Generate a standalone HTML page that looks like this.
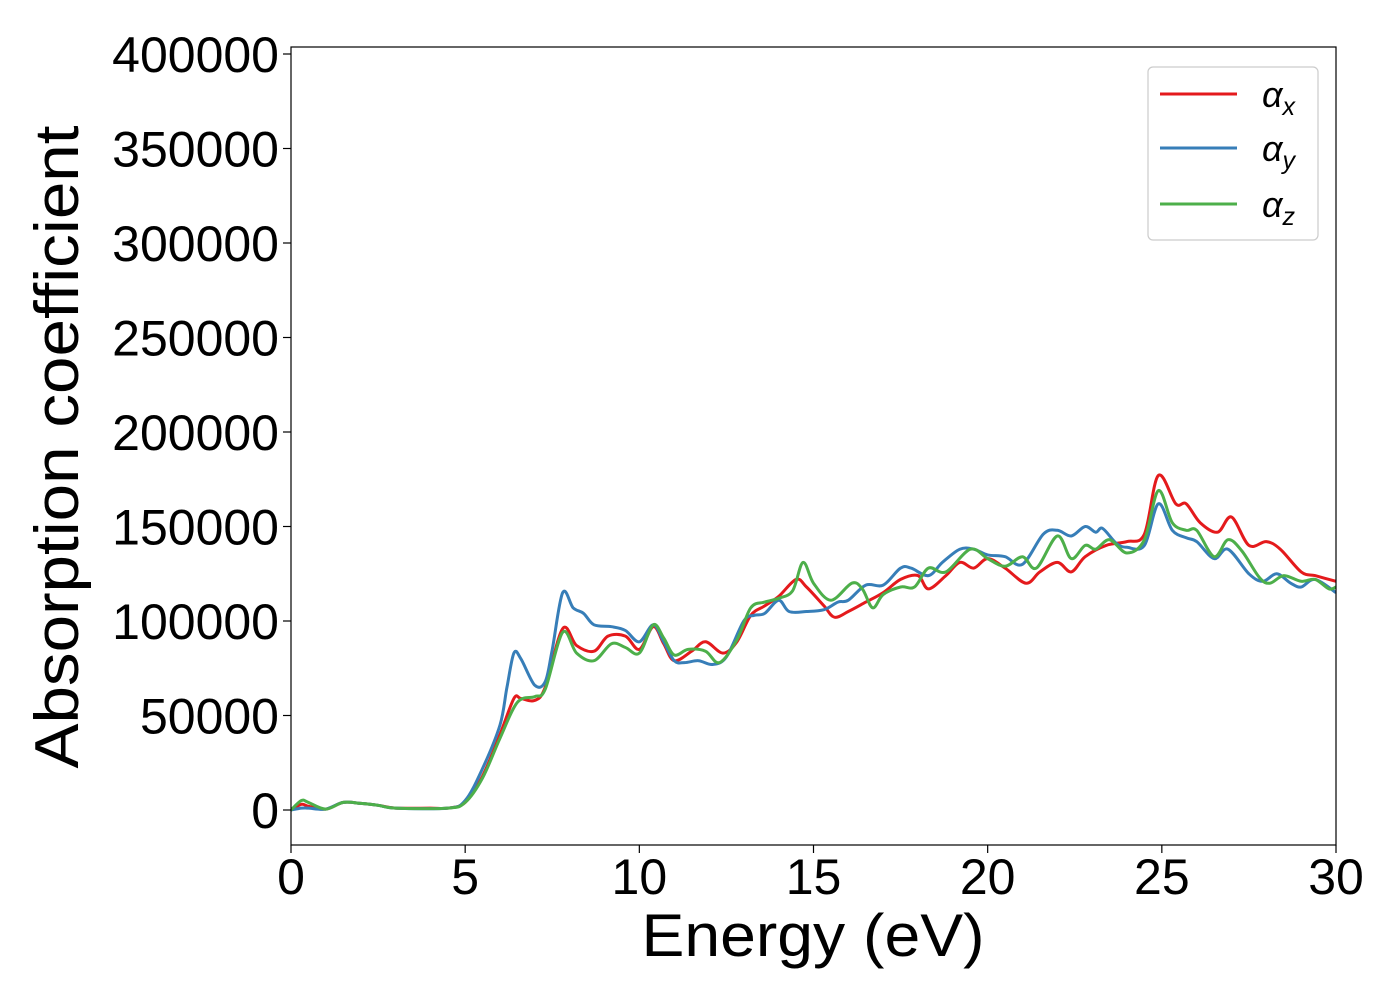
<!DOCTYPE html>
<html><head><meta charset="utf-8"><style>
html,body{margin:0;padding:0;background:#fff;}
svg{display:block;font-family:"Liberation Sans","DejaVu Sans",sans-serif;}
</style></head><body>
<svg id="chart" width="1400" height="1000" viewBox="0 0 1400 1000" xmlns="http://www.w3.org/2000/svg">
<rect x="0" y="0" width="1400" height="1000" fill="#fff"/>
<g id="series"></g>
<rect x="291" y="47" width="1045" height="798" fill="none" stroke="#000" stroke-width="1.2"/>
<g id="xticks"></g>
<g id="yticks"></g>
<text x="813" y="956" font-size="60" text-anchor="middle" textLength="343" lengthAdjust="spacingAndGlyphs">Energy (eV)</text>
<text x="0" y="0" font-size="62" text-anchor="middle" textLength="643" lengthAdjust="spacingAndGlyphs" transform="translate(78,447) rotate(-90)">Absorption coefficient</text>
<g>
<rect x="1148" y="67" width="170" height="173" rx="5" fill="#fff" fill-opacity="0.8" stroke="#ccc" stroke-width="1.2"/>
<line x1="1160" y1="94" x2="1237" y2="94" stroke="#e41a1c" stroke-width="3"/>
<text x="1262" y="107" font-size="36" font-style="italic">α<tspan font-size="25" dy="8">x</tspan></text>
<line x1="1160" y1="148" x2="1237" y2="148" stroke="#377eb8" stroke-width="3"/>
<text x="1262" y="161" font-size="36" font-style="italic">α<tspan font-size="25" dy="8">y</tspan></text>
<line x1="1160" y1="204" x2="1237" y2="204" stroke="#4daf4a" stroke-width="3"/>
<text x="1262" y="217" font-size="36" font-style="italic">α<tspan font-size="25" dy="8">z</tspan></text>
</g>
</svg>
<script>
const xTicks=[0,5,10,15,20,25,30];
const yTicks=[0,50000,100000,150000,200000,250000,300000,350000,400000];
const ex=[0,0.3,0.5,1,1.5,2,2.5,3,4,4.5,5,5.5,6,6.4,6.6,7,7.3,7.8,8.2,8.7,9.1,9.6,10,10.4,10.7,11,11.5,11.9,12.4,12.8,13.2,13.6,14,14.5,14.8,15.3,15.6,16,16.5,17,17.5,18,18.3,18.8,19.2,19.6,20,20.5,21.1,21.5,22,22.4,22.8,23.4,24,24.5,24.9,25.4,25.7,26.1,26.6,27,27.5,28,28.4,29,29.4,30];
const ax=[0,3,2,0.5,4,3.5,2.5,1,1,1,4,18,40,59,59,58,65,96,87,84,92,92,85,97,88,79,84,89,83,89,103,108,113,122,118,108,102,105,110,115,122,124,117,124,131,128,133,128,120,126,131,126,134,140,142,146,177,162,162,152,147,155,140,142,138,126,124,121];
const ey=[0,0.3,0.5,1,1.5,2,2.5,3,4.5,5,5.5,6,6.2,6.4,6.6,7,7.3,7.5,7.8,8.1,8.4,8.7,9.2,9.6,10,10.4,10.7,11,11.3,11.7,12.1,12.5,13,13.3,13.6,14,14.3,14.8,15.3,15.7,16,16.5,17,17.5,17.8,18.3,18.7,19.2,19.6,20,20.5,21,21.6,22,22.4,22.8,23.1,23.3,23.7,24,24.5,24.9,25.3,25.7,26,26.5,26.9,27.5,27.9,28.3,28.7,29,29.4,30];
const ay=[0,1,1,0.5,4,3.5,2.5,1,1,5,22,45,65,83,80,66,68,85,115,107,104,98,97,95,89,98,89,79,78,79,77,81,100,103,104,111,105,105,106,110,111,119,119,128,128,124,131,138,138,135,134,130,146,148,145,150,147,149,141,139,140,162,148,144,142,133,138,125,121,125,120,118,122,115];
const ez=[0,0.3,0.5,1,1.5,2,2.5,3,4.5,5,5.5,6,6.5,7,7.3,7.8,8.2,8.7,9.2,9.6,10,10.4,10.7,11,11.4,11.9,12.3,12.8,13.2,13.6,14,14.4,14.7,15,15.5,16.1,16.4,16.7,17,17.5,17.9,18.3,18.8,19.5,20,20.5,21,21.4,22,22.4,22.8,23.1,23.5,24,24.5,24.9,25.3,25.7,26,26.5,26.9,27.3,27.8,28.1,28.5,29,29.4,29.8,30];
const az=[0,5,4,0.5,4,3.5,2.5,1,1,4,17,38,57,60,64,94,83,79,88,86,83,98,91,82,85,84,78,90,107,110,112,116,131,120,111,120,117,107,114,118,118,128,126,138,133,129,134,128,145,133,140,138,143,136,143,169,152,148,148,134,143,137,123,120,124,121,122,117,118];
const NS="http://www.w3.org/2000/svg";
const X0=291,X1=1336,Y0=810,Y400=54;
function sx(e){return X0+(e-0)/(30-0)*(X1-X0);}
function sy(v){return Y0+(v/400000)*(Y400-Y0);}
function el(t,a,p){const n=document.createElementNS(NS,t);for(const k in a)n.setAttribute(k,a[k]);p.appendChild(n);return n;}
const xg=document.getElementById('xticks'),yg=document.getElementById('yticks');
xTicks.forEach(t=>{
 const l=el('line',{x1:sx(t),x2:sx(t),y1:845,y2:853,stroke:'#000','stroke-width':1.2},xg);
 
 
 const tx=el('text',{x:sx(t),y:894,'font-size':50,'text-anchor':'middle'},xg);
 
 
 tx.textContent=t;
});
yTicks.forEach(t=>{
 const l=el('line',{x1:283,x2:291,y1:sy(t),y2:sy(t),stroke:'#000','stroke-width':1.2},yg);
 
 
 const tx=el('text',{x:279,y:sy(t)+18,'font-size':50,'text-anchor':'end'},yg);
 
 
 tx.textContent=t;
});
function pathFor(E,V){
 const p=E.map((e,i)=>[sx(e),sy(V[i]*1000)]);
 let d='M'+p[0][0].toFixed(1)+','+p[0][1].toFixed(1);
 for(let i=0;i<p.length-1;i++){
  const a=p[i-1]||p[i],b=p[i],c=p[i+1],f=p[i+2]||c;
  const c1=[b[0]+(c[0]-a[0])/6,b[1]+(c[1]-a[1])/6],c2=[c[0]-(f[0]-b[0])/6,c[1]-(f[1]-b[1])/6];
  d+=' C'+c1[0].toFixed(1)+','+c1[1].toFixed(1)+' '+c2[0].toFixed(1)+','+c2[1].toFixed(1)+' '+c[0].toFixed(1)+','+c[1].toFixed(1);
 }
 return d;
}
const sg=document.getElementById('series');
const cp=el('clipPath',{id:'clip'},sg);el('rect',{x:291,y:47,width:1045,height:798},cp);
[[ex,ax,'#e41a1c','series-alpha-x'],[ey,ay,'#377eb8','series-alpha-y'],[ez,az,'#4daf4a','series-alpha-z']].forEach(s=>{
 const p=el('path',{d:pathFor(s[0],s[1]),fill:'none',stroke:s[2],'stroke-width':3,'clip-path':'url(#clip)'},sg);
 
 
});
</script>
</body></html>
